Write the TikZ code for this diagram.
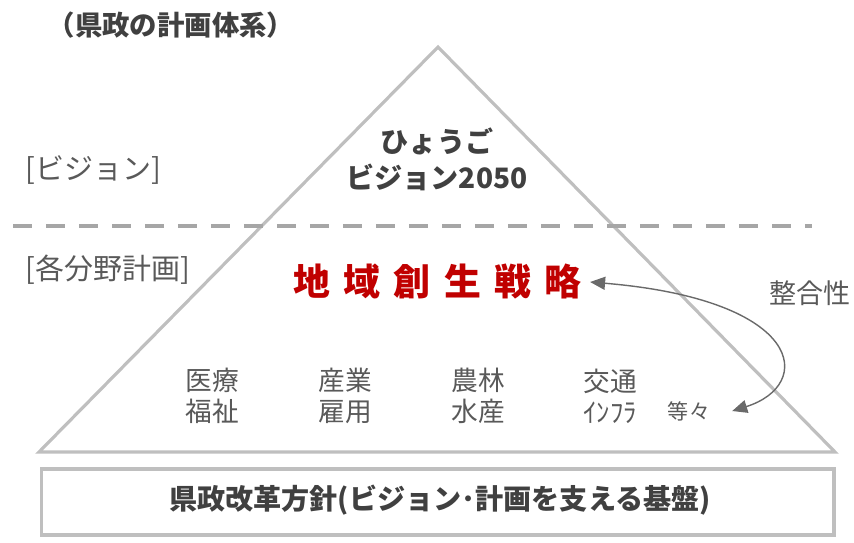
\documentclass[tikz,border=0pt]{standalone}
\usepackage{fontspec}
\usepackage{xcolor}
\usepackage{tikz}
\usetikzlibrary{arrows.meta}
\setmainfont{Noto Sans CJK JP}
\definecolor{edgegray}{HTML}{BFBFBF}
\definecolor{dashgray}{HTML}{A6A6A6}
\definecolor{textdark}{HTML}{404040}
\definecolor{textgray}{HTML}{595959}
\definecolor{arrowgray}{HTML}{6A6A6A}
\definecolor{strategyred}{HTML}{C00000}
\tikzset{
  lbl/.style={text=textgray, font=\fontsize{16.5}{19}\selectfont, inner sep=0pt},
  field/.style={text=textgray, font=\fontsize{15.2}{17.5}\selectfont, align=center},
  heavy/.style={text=textdark, font=\bfseries\fontsize{16}{20.5}\selectfont, align=center},
}

\begin{document}
\begin{tikzpicture}[x=0.02cm, y=-0.02cm]
\useasboundingbox (0,0) rectangle (854,542);
%\fill [white] (0,0) rectangle (854,542);
\draw (171,25) node [heavy, font=\bfseries\fontsize{15.6}{18}\selectfont] (title) {（県政の計画体系）};
% pyramid
\draw [edgegray, line width=1.8pt, line join=miter] (438,47) -- (835,452) -- (39,452) -- cycle;
\draw [dashgray, line width=2.8pt, dash pattern=on 0.38cm off 0.28cm] (13,226) -- (812,226);
\draw [edgegray, line width=2.2pt] (41.5,469) rectangle (834,535);
\draw (25,170) node [lbl, anchor=west] (visionlbl) {[ビジョン]};
\draw (25,270) node [lbl, anchor=west] (planlbl) {[各分野計画]};
\draw (437,159) node [heavy] (vision) {ひょうご\\ビジョン2050};
\draw (437.5,282) node [text=strategyred, font=\bfseries\fontsize{21}{24}\selectfont] (senryaku)
  {地\hspace{0.36em}域\hspace{0.36em}創\hspace{0.36em}生\hspace{0.36em}戦\hspace{0.36em}略};
\draw (212,396) node [field] (iryo) {医療\\福祉};
\draw (345,396) node [field] (sangyo) {産業\\雇用};
\draw (478,396) node [field] (norin) {農林\\水産};
\draw (610,396) node [field] (kotsu) {交通\\ｲﾝﾌﾗ};
\draw (689,411) node [text=textgray, font=\fontsize{12}{14}\selectfont, inner sep=1pt] (toto) {等々};
\draw (810,293) node [lbl, font=\fontsize{15.4}{18}\selectfont] (seigo) {整合性};
\draw [arrowgray, line width=0.8pt, {Triangle[length=0.3cm, width=0.26cm]}-{Triangle[length=0.3cm, width=0.26cm]}]
  ([xshift=0.4cm]toto.east) .. controls (815,385) and (805,300) .. ([xshift=0.05cm]senryaku.east);
\draw (440,500) node [heavy] (kiban) {県政改革方針(ビジョン･計画を支える基盤)};
\end{tikzpicture}
\end{document}
